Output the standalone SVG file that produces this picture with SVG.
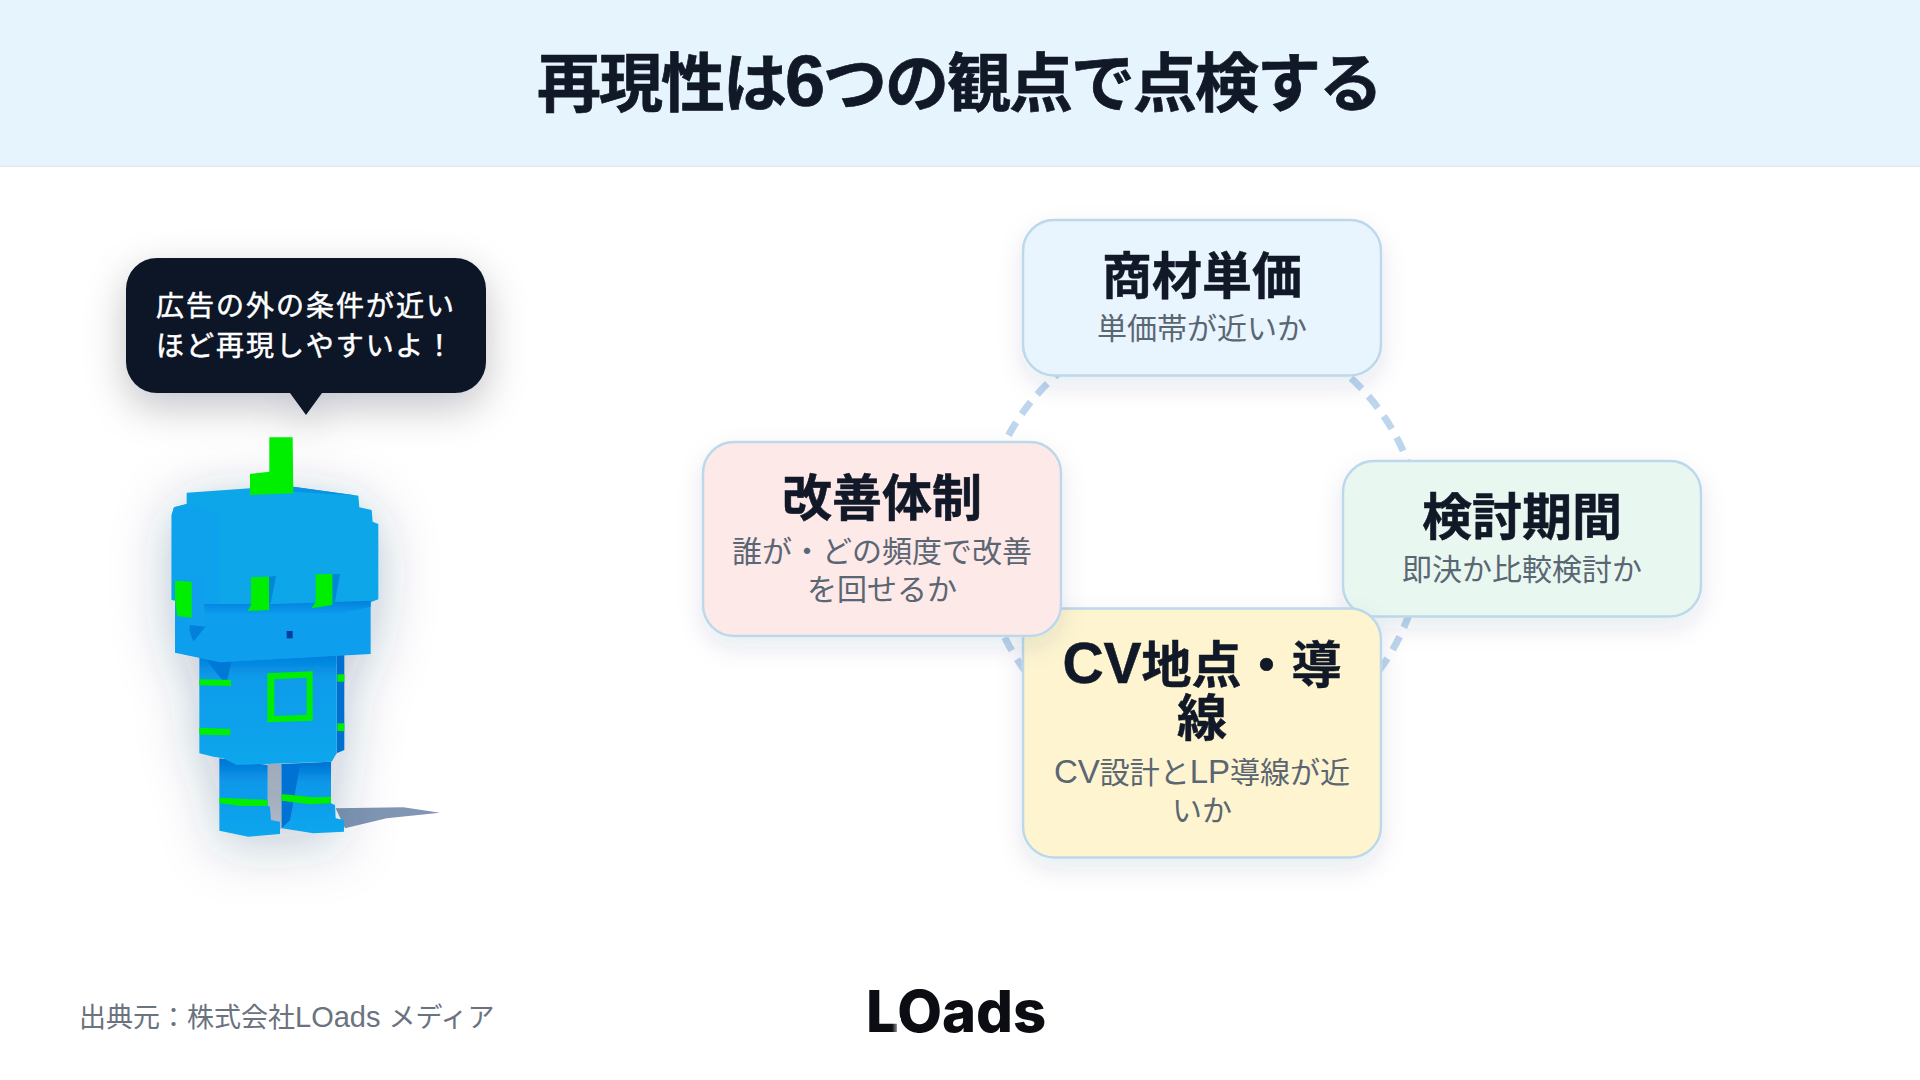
<svg xmlns="http://www.w3.org/2000/svg" width="1920" height="1080" viewBox="0 0 1920 1080">
<style>
text{font-family:"Liberation Sans","Noto Sans CJK JP",sans-serif}
.box{stroke:#bcd8ea;stroke-width:2.5}
.t{font-size:50px;font-weight:700;fill:#111827;stroke:#111827;stroke-width:.5;text-anchor:middle}
.s{font-size:30px;font-weight:400;fill:#5b6673;text-anchor:middle}
.g{fill:#00ee00}
</style>
<defs>
<filter id="card" x="-20%" y="-20%" width="140%" height="150%"><feDropShadow dx="0" dy="10" stdDeviation="12" flood-color="#1e3a5f" flood-opacity=".10"/></filter>
<filter id="bub" x="-25%" y="-40%" width="150%" height="200%"><feDropShadow dx="0" dy="14" stdDeviation="20" flood-color="#0f172a" flood-opacity=".24"/></filter>
<filter id="rob" x="-50%" y="-25%" width="200%" height="150%"><feDropShadow dx="0" dy="10" stdDeviation="28" flood-color="#1e3a5f" flood-opacity=".30"/></filter>
<filter id="soft"><feGaussianBlur stdDeviation="1.5"/></filter>
<linearGradient id="torso" x1="0" y1="0" x2="0" y2="1"><stop offset="0" stop-color="#0279d8"/><stop offset=".25" stop-color="#0a9cea"/><stop offset="1" stop-color="#0aa6ec"/></linearGradient>
<linearGradient id="leg" x1="0" y1="0" x2="0" y2="1"><stop offset="0" stop-color="#0272d2"/><stop offset=".3" stop-color="#0a98ea"/><stop offset="1" stop-color="#0aa6ee"/></linearGradient>
<linearGradient id="band" x1="0" y1="0" x2="0" y2="1"><stop offset="0" stop-color="#0280dc"/><stop offset="1" stop-color="#0c9cee"/></linearGradient>
<linearGradient id="fade" x1="0" y1="0" x2="1" y2="0"><stop offset="0" stop-color="#fff" stop-opacity="0"/><stop offset="1" stop-color="#fff" stop-opacity=".95"/></linearGradient>
</defs>
<rect width="1920" height="1080" fill="#fff"/>
<g id="header">
<rect width="1920" height="165.500" fill="#e6f4fe"/>
<rect y="165.500" width="1920" height="1.500" fill="#e3e8ec"/>
<text x="959" y="106" font-size="64" font-weight="700" fill="#111827" stroke="#111827" stroke-width=".7" text-anchor="middle" letter-spacing="-2">再現性は<tspan font-size="72">6</tspan>つの観点で点検する</text>
</g>
<g id="connectors">
<circle cx="1202" cy="540" r="220" fill="none" stroke="#bdd6ee" stroke-width="7" stroke-dasharray="15 10"/>
</g>
<g id="node-price"><rect class="box" x="1023" y="220" width="358" height="155.500" rx="31" fill="#e8f4fe" filter="url(#card)"/>
<text class="t" x="1202" y="294">商材単価</text><text class="s" x="1202" y="339">単価帯が近いか</text></g>
<g id="node-period"><rect class="box" x="1343" y="461" width="358" height="155.500" rx="31" fill="#e8f8f1" filter="url(#card)"/>
<text class="t" x="1522" y="535">検討期間</text><text class="s" x="1522" y="580">即決か比較検討か</text></g>
<g id="node-cv"><rect class="box" x="1023" y="608.500" width="358" height="249" rx="31" fill="#fef5d0" filter="url(#card)"/>
<text class="t" x="1202" y="683"><tspan font-size="57">CV</tspan>地点・導</text><text class="t" x="1202" y="736">線</text><text class="s" x="1202" y="783"><tspan font-size="33">CV</tspan>設計と<tspan font-size="33">LP</tspan>導線が近</text><text class="s" x="1202" y="821">いか</text></g>
<g id="node-kaizen"><rect class="box" x="703" y="442" width="358" height="194" rx="31" fill="#fee9e9" filter="url(#card)"/>
<text class="t" x="882" y="516">改善体制</text><text class="s" x="882" y="562">誰が・どの頻度で改善</text><text class="s" x="882" y="600">を回せるか</text></g>
<g id="bubble">
<path d="M157 258H455a31 31 0 0 1 31 31V362a31 31 0 0 1-31 31H322L306 415L290 393H157a31 31 0 0 1-31-31V289a31 31 0 0 1 31-31Z" fill="#111827" filter="url(#bub)"/>
<text x="156" y="315.500" font-size="28" font-weight="400" fill="#fff" stroke="#fff" stroke-width=".5" letter-spacing="2">広告の外の条件が近い</text>
<text x="156" y="356" font-size="28" font-weight="400" fill="#fff" stroke="#fff" stroke-width=".5" letter-spacing="2">ほど再現しやすいよ！</text>
</g>
<g id="robot">
<g transform="translate(170 640) scale(.33333)">
<path d="M497 505L700 502L810 518L650 535L525 565Z" fill="#8196b3" filter="url(#soft)"/>
<rect x="293" y="372" width="42" height="195" fill="#cfd6de"/>
</g>
<g filter="url(#rob)">
<g transform="translate(170 640) scale(.33333)">
<path d="M148 355L293 375V497L300 500L303 540L330 545V582L235 590L148 572Z" fill="url(#leg)"/>
<path d="M335 372L483 365V490L495 495L497 535L522 540V575L430 580L335 565Z" fill="url(#leg)"/>
<path d="M335 372H390L375 460L360 540L335 565Z" fill="#0272d4"/>
<path d="M88 30H190L200 375L160 355L130 350L88 340Z" fill="url(#torso)"/>
<path d="M110 60L185 60L168 135Z" fill="#0278d6"/>
<path d="M500 30H523V330L500 340Z" fill="#0270d0"/>
<path d="M185 30H500V340L485 365L200 375L185 360Z" fill="url(#torso)"/>
</g>
<g transform="translate(150 430) scale(.33333)">
<path d="M75 500H662V672L210 697L75 668Z" fill="#0c9eee"/>
<path d="M110 188L300 175L430 170L625 197L628 232L665 240L668 275L685 282V508L662 517L375 522L155 522L65 510V255L72 232L110 222Z" fill="#0ca7e9"/>
<path d="M65 255L72 232L110 222L210 252V522H155L65 510Z" fill="#0ea2eb"/>
</g>
</g>
<g transform="translate(150 430) scale(.33333)">
<path d="M155 522L375 522L662 512V530L580 548L300 552L165 548Z" fill="url(#band)"/>
<path d="M120 585H170L130 635L118 600Z" fill="#0280dc"/>
<path d="M125 440H155L168 590L120 585L75 560V510L125 510Z" fill="#0f9fec"/>
<path d="M430 170L625 197L430 185Z" fill="#0a92e2"/>
<path class="g" d="M358 22H428L430 190L300 195V132L358 125Z"/>
<path d="M357 440L378 438L362 520H355Z" fill="#0286d8"/>
<path d="M547 432L570 432L555 515L547 518Z" fill="#0286d8"/>
<path class="g" d="M75 452L125 455V563L82 558L75 510Z"/>
<path class="g" d="M303 442L357 440V540L293 543L303 525Z"/>
<path class="g" d="M497 433L547 432V525L485 535L497 515Z"/>
<rect x="410" y="603" width="18" height="22" fill="#04409a"/>
</g>
<g transform="translate(170 640) scale(.33333)">
<path class="g" d="M88 118L183 120V138L88 136Z"/>
<path class="g" d="M88 263L181 267V286L88 284Z"/>
<rect class="g" x="502" y="103" width="21" height="22"/>
<rect class="g" x="502" y="250" width="21" height="23"/>
<path class="g" fill-rule="evenodd" d="M292 100L428 94V242L292 247ZM313 118V228L410 224V113Z"/>
<path class="g" d="M148 473L293 480V498H215L148 490Z"/>
<path class="g" d="M335 462L430 472L483 470V490L420 493L335 482Z"/>
</g>
</g>
<g id="footer">
<text x="79" y="1027" font-size="27" fill="#6b7280">出典元：株式会社<tspan font-size="29">LOads </tspan>メディア</text>
<text x="866" y="1032" style="font-family:Inter,sans-serif" font-size="58" font-weight="800" fill="#0b0d12">LOads</text>
<rect x="892" y="1018" width="9" height="15" fill="url(#fade)"/>
</g>
</svg>
